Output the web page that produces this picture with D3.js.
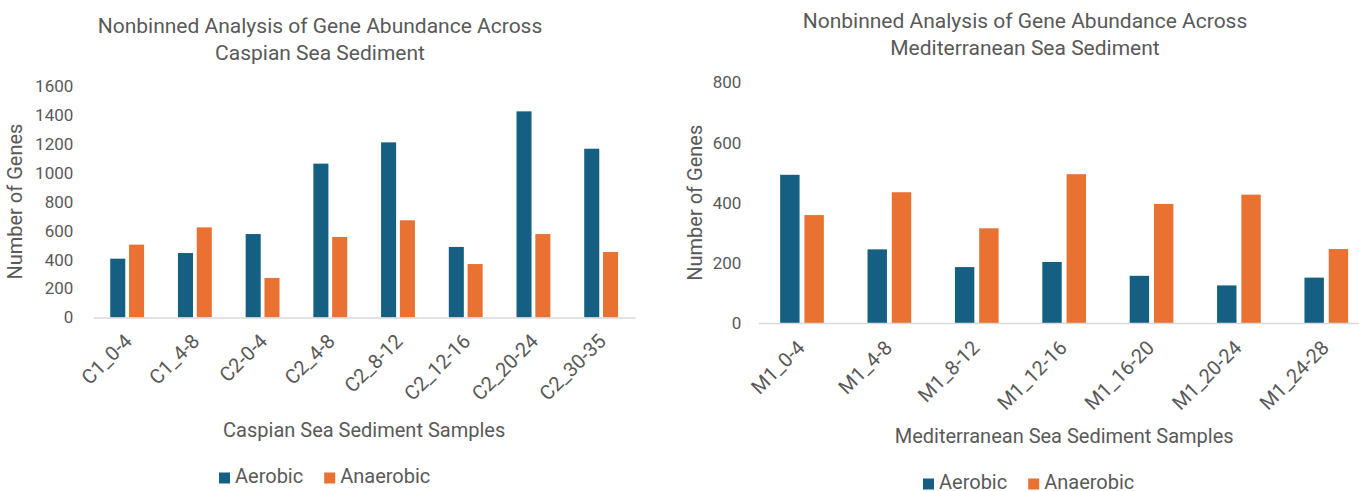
<!DOCTYPE html>
<html>
<head>
<meta charset="utf-8">
<script src="https://cdn.jsdelivr.net/npm/d3@7"></script>
<style>
  html, body { margin: 0; padding: 0; background: #ffffff; }
  svg { display: block; font-family: Roboto, "Noto Sans", sans-serif; }
  .axis-text { fill: #595959; }
</style>
</head>
<body>
<svg id="chart" width="1359" height="491"></svg>
<script>
// Gene counts per sediment sample
const seriesNames = ["Aerobic", "Anaerobic"];
const seriesColors = ["#156082", "#E97132"];

const caspianSamples = ["C1_0-4", "C1_4-8", "C2-0-4", "C2_4-8", "C2_8-12", "C2_12-16", "C2_20-24", "C2_30-35"];
const caspianAerobic = [406, 445, 576, 1062, 1209, 487, 1423, 1165];
const caspianAnaerobic = [503, 622, 273, 556, 671, 369, 576, 452];
const caspianTicks = [0, 200, 400, 600, 800, 1000, 1200, 1400, 1600];

const medSamples = ["M1_0-4", "M1_4-8", "M1_8-12", "M1_12-16", "M1_16-20", "M1_20-24", "M1_24-28"];
const medAerobic = [493, 245, 186, 203, 157, 125, 151];
const medAnaerobic = [359, 435, 315, 495, 396, 427, 246];
const medTicks = [0, 200, 400, 600, 800];

const svg = d3.select("#chart");

function drawChart(opts) {
  const g = svg.append("g");
  const rows = opts.samples.map((s, i) => ({ sample: s, values: [opts.aerobic[i], opts.anaerobic[i]] }));

  const x = d3.scaleBand().domain(opts.samples).range([opts.left, opts.right]).padding(0);
  const xs = d3.scaleBand().domain(seriesNames)
    .range([x.bandwidth() * 0.25, x.bandwidth() * 0.75]).paddingInner(0.2);
  const y = d3.scaleLinear().domain([0, d3.max(opts.ticks)]).range([opts.bottom, opts.top]);

  // value axis labels
  const yAxis = d3.axisLeft(y).tickValues(opts.ticks).tickSize(0).tickPadding(opts.tickPad)
    .tickFormat(d3.format("d"));
  const ya = g.append("g").attr("transform", `translate(${opts.left},0)`).call(yAxis);
  ya.select(".domain").remove();
  ya.selectAll("text").attr("class", "axis-text").style("font-size", "17px")
    .style("font-family", "Roboto, sans-serif");

  // bars
  const groups = g.append("g").selectAll("g").data(rows).join("g")
    .attr("transform", d => `translate(${x(d.sample)},0)`);
  groups.selectAll("rect").data(d => d.values.map((v, i) => ({ key: seriesNames[i], value: v, i })))
    .join("rect")
    .attr("x", d => xs(d.key))
    .attr("width", xs.bandwidth())
    .attr("y", d => y(d.value))
    .attr("height", d => y(0) - y(d.value))
    .attr("fill", d => seriesColors[d.i]);

  // category axis
  const xAxis = d3.axisBottom(x).tickSize(0).tickPadding(0);
  const xa = g.append("g").attr("transform", `translate(0,${y(0)})`).call(xAxis);
  xa.select(".domain").attr("stroke", "#d9d9d9").attr("stroke-width", 1.5);
  xa.selectAll("text")
    .attr("class", "axis-text")
    .style("font-size", "20px")
    .style("font-family", "Roboto, sans-serif")
    .attr("text-anchor", "end")
    .attr("dy", "0.35em")
    .attr("y", 0)
    .attr("transform", `translate(${opts.labelDx},${opts.labelDy}) rotate(-45)`);

  // axis titles
  g.append("text").attr("class", "axis-text")
    .attr("x", (opts.left + opts.right) / 2 + opts.xTitleShift).attr("y", opts.xTitleY)
    .attr("text-anchor", "middle").attr("dominant-baseline", "middle")
    .style("font-size", "20px").text(opts.xTitle);
  g.append("text").attr("class", "axis-text")
    .attr("transform", `translate(${opts.yTitleX},${(opts.top + opts.bottom) / 2}) rotate(-90)`)
    .attr("text-anchor", "middle").attr("dominant-baseline", "middle")
    .style("font-size", "20px").text("Number of Genes");

  // chart title
  const t = g.append("text").attr("class", "axis-text").attr("text-anchor", "middle")
    .style("font-size", "21px");
  opts.title.forEach((line, i) => {
    t.append("tspan").attr("x", opts.titleX).attr("y", opts.titleY + i * 27)
      .attr("dominant-baseline", "middle").text(line);
  });

  // legend
  const lg = g.append("g").attr("transform", `translate(${opts.legendX},${opts.legendY})`);
  let cx = 0;
  seriesNames.forEach((name, i) => {
    lg.append("rect").attr("x", cx).attr("y", -5.5).attr("width", 11).attr("height", 11)
      .attr("fill", seriesColors[i]);
    const txt = lg.append("text").attr("class", "axis-text").attr("x", cx + 16).attr("y", 0)
      .attr("dominant-baseline", "middle").style("font-size", "20px").text(name);
    cx += 16 + txt.node().getComputedTextLength() + 21;
  });
}

drawChart({
  samples: caspianSamples, aerobic: caspianAerobic, anaerobic: caspianAnaerobic, ticks: caspianTicks,
  left: 93.3, right: 635, top: 85.7, bottom: 317.5, tickPad: 20,
  labelDx: 1, labelDy: 20,
  xTitle: "Caspian Sea Sediment Samples", xTitleY: 432, xTitleShift: 0,
  yTitleX: 17,
  title: ["Nonbinned Analysis of Gene Abundance Across", "Caspian Sea Sediment"], titleX: 320, titleY: 27,
  legendX: 219, legendY: 478
});

drawChart({
  samples: medSamples, aerobic: medAerobic, anaerobic: medAnaerobic, ticks: medTicks,
  left: 758.3, right: 1370, top: 82.5, bottom: 323, tickPad: 17,
  labelDx: -1, labelDy: 21,
  xTitle: "Mediterranean Sea Sediment Samples", xTitleY: 438, xTitleShift: 0,
  yTitleX: 697,
  title: ["Nonbinned Analysis of Gene Abundance Across", "Mediterranean Sea Sediment"], titleX: 1025, titleY: 22,
  legendX: 923, legendY: 484
});
</script>
</body>
</html>
